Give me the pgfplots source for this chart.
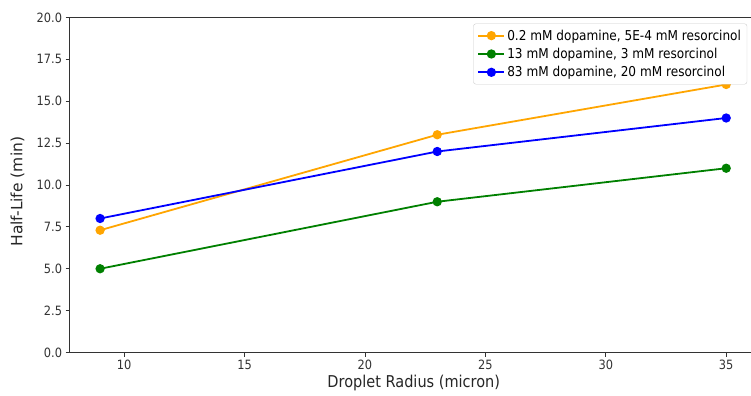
\documentclass[border=0pt]{standalone}
\usepackage{pgfplots}
\pgfplotsset{compat=1.18}
\usepackage{fontspec}
\setmainfont[FakeStretch=0.89]{DejaVu Sans}
\newfontfamily\ylabfont{DejaVu Sans}
\definecolor{mplorange}{RGB}{255,165,0}
\definecolor{mplgreen}{RGB}{0,128,0}
\definecolor{mplblue}{RGB}{0,0,255}
\begin{document}
\begin{tikzpicture}
\begin{axis}[
  name=ax,
  scale only axis,
  width=687.5pt, height=335pt,
  xmin=7.75, xmax=36.3,
  ymin=0, ymax=20,
  xtick={10,15,20,25,30,35},
  ytick={0,2.5,5,7.5,10,12.5,15,17.5,20},
  yticklabel style={/pgf/number format/.cd, fixed, fixed zerofill, precision=1},
  /pgf/number format/assume math mode=true,
  tick align=outside,
  tick pos=left,
  major tick length=4.4pt,
  tick style={black!80, line width=0.9pt},
  tick label style={font=\fontsize{12.8}{14}\selectfont, color=black!80},
  xlabel={Droplet Radius (micron)},
  ylabel={\ylabfont Half-Life (min)},
  label style={font=\fontsize{16.3}{18}\selectfont, color=black!85},
  xlabel style={at={(axis description cs:0.5,-0.0925)}, anchor=center},
  ylabel style={at={(axis description cs:-0.0764,0.48)}, anchor=center, rotate=0, font=\fontsize{15.5}{17}\selectfont},
  axis line style={black!80, line width=1pt},
  legend style={at={(0.985,0.982)}, anchor=north east, font=\fontsize{13.6}{15}\selectfont,
    draw=black!20, rounded corners=2.5pt, row sep=2.5pt, inner sep=4pt,
    /tikz/every even column/.append style={column sep=7pt}},
  legend cell align=left,
  legend image code/.code={\draw[mark repeat=2,mark phase=2] plot coordinates {(0pt,0pt) (13pt,0pt) (26pt,0pt)};},
  every axis plot/.append style={line width=1.8pt, mark=*, mark size=3.7pt},
  clip=false,
]
\addplot[color=mplorange, mark options={fill=mplorange, draw=mplorange}] coordinates {(9,7.3) (23,13) (35,16)};
\addlegendentry{0.2 mM dopamine, 5E-4 mM resorcinol}
\addplot[color=mplgreen, mark options={fill=mplgreen, draw=mplgreen}] coordinates {(9,5) (23,9) (35,11)};
\addlegendentry{13 mM dopamine, 3 mM resorcinol}
\addplot[color=mplblue, mark options={fill=mplblue, draw=mplblue}] coordinates {(9,8) (23,12) (35,14)};
\addlegendentry{83 mM dopamine, 20 mM resorcinol}
\end{axis}
\pgfresetboundingbox
\path ([xshift=-70pt,yshift=-43pt]ax.south west) rectangle ([xshift=-6.5pt,yshift=17.5pt]ax.north east);
\end{tikzpicture}
\end{document}
